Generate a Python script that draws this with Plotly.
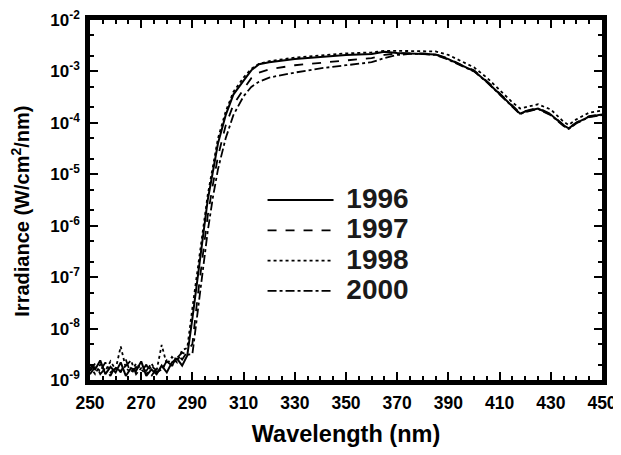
import plotly.graph_objects as go

wavelength = [250, 252, 254, 256, 258, 260, 262, 264, 266, 268, 270, 272, 274, 276, 278,
              280, 282, 284, 286, 288,
              290, 292, 294, 296, 298, 300, 303, 306, 310, 313, 316, 320, 330, 340, 350,
              360, 365, 370, 375, 380, 385, 390, 395, 400, 405, 410, 415, 418, 420, 425,
              430, 435, 437, 440, 445, 450]

irr_1996 = [2.0e-9, 1.6e-9, 2.4e-9, 1.3e-9, 1.8e-9, 1.4e-9, 2.2e-9, 1.2e-9, 1.7e-9, 1.5e-9,
            2.3e-9, 1.2e-9, 1.6e-9, 1.3e-9, 1.9e-9, 1.4e-9, 2.2e-9, 2.6e-9, 1.9e-9, 3.0e-9,
            1.58e-8, 1.0e-7, 5.6e-7, 3.2e-6, 1.12e-5, 4.0e-5, 1.41e-4, 3.55e-4, 6.6e-4, 1.05e-3,
            1.38e-3, 1.51e-3, 1.74e-3, 1.91e-3, 2.09e-3, 2.19e-3, 2.4e-3, 2.29e-3, 2.24e-3, 2.24e-3,
            2.14e-3, 1.74e-3, 1.32e-3, 1.02e-3, 6.3e-4, 3.6e-4, 2.1e-4, 1.51e-4, 1.66e-4, 1.9e-4,
            1.45e-4, 8.9e-5, 7.8e-5, 1.0e-4, 1.32e-4, 1.45e-4]

irr_1997 = [1.5e-9, 2.1e-9, 1.3e-9, 1.7e-9, 1.2e-9, 1.9e-9, 1.4e-9, 2.5e-9, 1.3e-9, 1.8e-9,
            1.4e-9, 2.0e-9, 1.2e-9, 1.7e-9, 1.5e-9, 2.4e-9, 1.8e-9, 3.2e-9, 2.5e-9, 3.6e-9,
            5.0e-9, 4.0e-8, 2.5e-7, 1.58e-6, 6.3e-6, 2.24e-5, 8.9e-5, 2.24e-4, 4.5e-4, 7.4e-4,
            9.5e-4, 1.1e-3, 1.32e-3, 1.48e-3, 1.66e-3, 1.82e-3, 2.09e-3, 2.24e-3, 2.24e-3, 2.24e-3,
            2.14e-3, 1.78e-3, 1.35e-3, 1.05e-3, 6.5e-4, 3.7e-4, 2.14e-4, 1.55e-4, 1.7e-4, 1.95e-4,
            1.48e-4, 9.1e-5, 7.9e-5, 1.02e-4, 1.35e-4, 1.48e-4]

irr_1998 = [1.8e-9, 1.3e-9, 2.0e-9, 1.5e-9, 2.3e-9, 1.6e-9, 4.5e-9, 1.7e-9, 1.4e-9, 2.1e-9,
            1.6e-9, 1.3e-9, 1.9e-9, 1.5e-9, 4.8e-9, 2.0e-9, 2.8e-9, 2.2e-9, 3.8e-9, 4.2e-9,
            2.5e-8, 1.41e-7, 7.9e-7, 4.0e-6, 1.41e-5, 5.0e-5, 1.66e-4, 4.0e-4, 7.6e-4, 1.12e-3,
            1.41e-3, 1.58e-3, 1.86e-3, 2.04e-3, 2.24e-3, 2.34e-3, 2.51e-3, 2.51e-3, 2.51e-3, 2.51e-3,
            2.45e-3, 2.09e-3, 1.58e-3, 1.2e-3, 7.6e-4, 4.4e-4, 2.5e-4, 1.9e-4, 2.0e-4, 2.3e-4,
            1.82e-4, 1.05e-4, 9.1e-5, 1.17e-4, 1.58e-4, 1.74e-4]

irr_2000 = [1.3e-9, 1.8e-9, 1.5e-9, 2.2e-9, 1.4e-9, 1.7e-9, 1.5e-9, 1.9e-9, 2.4e-9, 1.3e-9,
            1.7e-9, 1.5e-9, 2.1e-9, 1.4e-9, 1.6e-9, 2.3e-9, 1.9e-9, 2.7e-9, 3.4e-9, 3.1e-9,
            3.2e-9, 2.0e-8, 1.26e-7, 7.9e-7, 3.55e-6, 1.26e-5, 5.0e-5, 1.41e-4, 3.3e-4, 5.0e-4,
            6.3e-4, 7.6e-4, 9.5e-4, 1.15e-3, 1.32e-3, 1.51e-3, 1.82e-3, 2.09e-3, 2.19e-3, 2.19e-3,
            2.09e-3, 1.7e-3, 1.29e-3, 1.0e-3, 6.2e-4, 3.55e-4, 2.04e-4, 1.48e-4, 1.62e-4, 1.86e-4,
            1.41e-4, 8.7e-5, 7.6e-5, 9.8e-5, 1.29e-4, 1.41e-4]

series_names = ["1996", "1997", "1998", "2000"]
x_ticks = [250, 270, 290, 310, 330, 350, 370, 390, 410, 430, 450]
y_tick_vals = [1e-9, 1e-8, 1e-7, 1e-6, 1e-5, 1e-4, 1e-3, 1e-2]
y_tick_text = ["10<sup>-9</sup>", "10<sup>-8</sup>", "10<sup>-7</sup>", "10<sup>-6</sup>",
               "10<sup>-5</sup>", "10<sup>-4</sup>", "10<sup>-3</sup>", "10<sup>-2</sup>"]

styles = [
    dict(dash="solid", width=2.0),
    dict(dash="dash", width=1.8),
    dict(dash="dot", width=1.8),
    dict(dash="dashdot", width=1.8),
]

fig = go.Figure()
for name, vals, st in zip(series_names, [irr_1996, irr_1997, irr_1998, irr_2000], styles):
    fig.add_trace(go.Scatter(
        x=wavelength, y=vals, mode="lines",
        name="<span style='font-size:28px'>&nbsp;" + name + "</span>",
        line=dict(color="black", dash=st["dash"], width=st["width"]),
    ))

font_family = "Liberation Sans, Arial, sans-serif"

fig.update_layout(
    template="none",
    width=613, height=439,
    margin=dict(l=82, r=19, t=12, b=67, autoexpand=False),
    paper_bgcolor="white", plot_bgcolor="white",
    font=dict(family=font_family, color="black", size=16, weight="bold"),
    showlegend=True,
    legend=dict(
        x=0.337, y=0.556, xanchor="left", yanchor="top",
        bgcolor="rgba(0,0,0,0)", borderwidth=0,
        font=dict(size=21, family=font_family, weight="bold", color="#1a1a1a"),
        itemwidth=66, tracegroupgap=0,
    ),
    xaxis=dict(
        automargin=False,
        range=[250, 450], tickvals=x_ticks,
        ticks="inside", ticklen=8, tickwidth=2, tickcolor="black",
        minor=dict(dtick=5, tick0=250, ticks="inside", ticklen=4, tickwidth=1.5, tickcolor="black",
                   showgrid=False),
        showline=True, linewidth=4.5, linecolor="black", mirror="ticks",
        showgrid=False, zeroline=False,
        ticklabelstandoff=3, ticklabeloverflow="allow",
        tickfont=dict(size=17.5, weight="bold"),
        title=dict(text="Wavelength (nm)", font=dict(size=23.5, weight="bold"), standoff=22),
    ),
    yaxis=dict(
        automargin=False,
        type="log", range=[-9, -2],
        tickvals=y_tick_vals, ticktext=y_tick_text,
        ticks="inside", ticklen=8, tickwidth=2, tickcolor="black",
        minor=dict(ticks="inside", ticklen=4, tickwidth=1.5, tickcolor="black", showgrid=False),
        showline=True, linewidth=4.5, linecolor="black", mirror="ticks",
        showgrid=False, zeroline=False,
        ticklabelstandoff=2, ticklabeloverflow="allow",
        tickfont=dict(size=17, weight="bold"),
        title=dict(text="Irradiance (W/cm<sup>2</sup>/nm)&nbsp;&nbsp;&nbsp;&nbsp;",
                   font=dict(size=20, weight="bold"), standoff=20),
    ),
)

fig.write_html("out.html")
